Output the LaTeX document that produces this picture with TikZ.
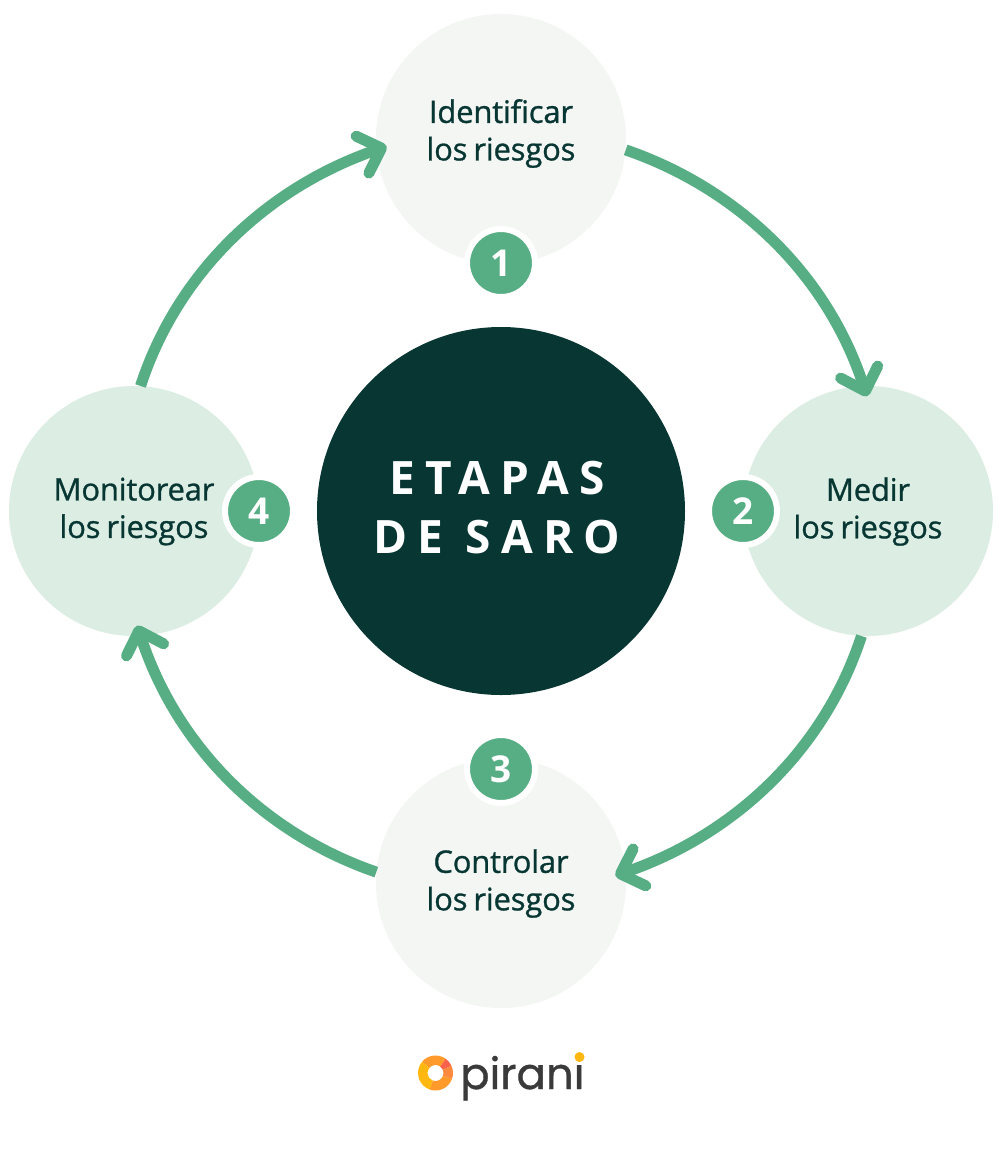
\documentclass[tikz,border=0pt]{standalone}
\usepackage{fontspec}
\setmainfont{Open Sans}
\newfontfamily\medfont[FakeBold=0.9,WordSpace=0.75,LetterSpace=-0.6]{Open Sans}
\newfontfamily\titlefont[LetterSpace=22,Ligatures=NoCommon]{Open Sans}
\newfontfamily\logofont[FakeBold=0.8]{Poppins}
\usetikzlibrary{arrows.meta}
\definecolor{paleg}{HTML}{F4F6F4}
\definecolor{mintg}{HTML}{DCEEE4}
\definecolor{leaf}{HTML}{58AE84}
\definecolor{deep}{HTML}{083633}
\definecolor{logoy}{HTML}{FFB80F}
\definecolor{logoo}{HTML}{FF9A2B}
\definecolor{logor}{HTML}{F9634B}
\definecolor{logol}{HTML}{FF8A3D}
\definecolor{logoink}{HTML}{3A3A3A}
\tikzset{
  x=1pt,y=-1pt,
  stage/.style={circle,minimum size=250pt,inner sep=0pt},
  stagetext/.style={align=center,text=deep,inner sep=0pt,font=\medfont\fontsize{31}{37.5}\selectfont},
  badge/.style={circle,minimum size=68pt,inner sep=0pt,fill=leaf,text=white,
    draw=white,line width=6pt,font=\bfseries\fontsize{37}{37}\selectfont},
  flow/.style={draw=leaf,line width=11pt,looseness=0.9,shorten >=-11pt,
    -{Straight Barb[round,length=20pt,width=39pt,line width=11pt]}},
}
\newcommand{\logoseg}[3]{\fill[#1] ([shift={(#2:17.5pt)}]ring) arc[start angle=#2,end angle=#3,radius=17.5pt]
  -- ([shift={(#3:8pt)}]ring) arc[start angle=#3,end angle=#2,radius=8pt] -- cycle;}
\begin{document}
\begin{tikzpicture}
\useasboundingbox[fill=white] (0,0) rectangle (1000,1149);
\node[stage,fill=paleg] (n1) at (501,139) {};
\node[stage,fill=mintg] (n2) at (868,511) {};
\node[stage,fill=paleg] (n3) at (501,883) {};
\node[stage,fill=mintg] (n4) at (134,511) {};
\node[stagetext] (t1) at (501,133.5) {Identificar\\los riesgos};
\node[stagetext] (t2) at (868,511.5) {Medir\\los riesgos};
\node[stagetext] (t3) at (501,883.5) {Controlar\\los riesgos};
\node[stagetext] (t4) at (134,511.5) {Monitorear\\los riesgos};
\node[circle,minimum size=368pt,inner sep=0pt,fill=deep] (core) at (501,511) {};
\node[text=white,align=center,inner sep=0pt,
  font=\titlefont\bfseries\fontsize{46}{59}\selectfont] (title) at (497,508) {ETAPAS\\DE SARO};
\node[badge] (b1) at (501,263) {1};
\node[badge] (b2) at (743,511) {2};
\node[badge] (b3) at (501,769) {3};
\node[badge] (b4) at (259,511) {4};
\draw[flow] (n1.-5.5) to[out=-19,in=108] (n2.92.5);
\draw[flow] (n2.-93) to[out=-108,in=19] (n3.5);
\draw[flow] (n3.175) to[out=161,in=-72] (n4.-87.5);
\draw[flow] (n4.87) to[out=72,in=199] (n1.185);
\coordinate (ring) at (435.5,1073);
\logoseg{logoo}{-110}{-20}
\logoseg{logol}{-20}{25}
\logoseg{logor}{25}{55}
\logoseg{logoo}{55}{140}
\logoseg{logoy}{140}{250}
\node[anchor=base west,inner sep=0pt,text=logoink,font=\logofont\fontsize{43.5}{44}\selectfont] (brand) at (460,1089) {pirani};
\fill[logoy] (579.5,1057) circle[radius=5pt];
\end{tikzpicture}
\end{document}
